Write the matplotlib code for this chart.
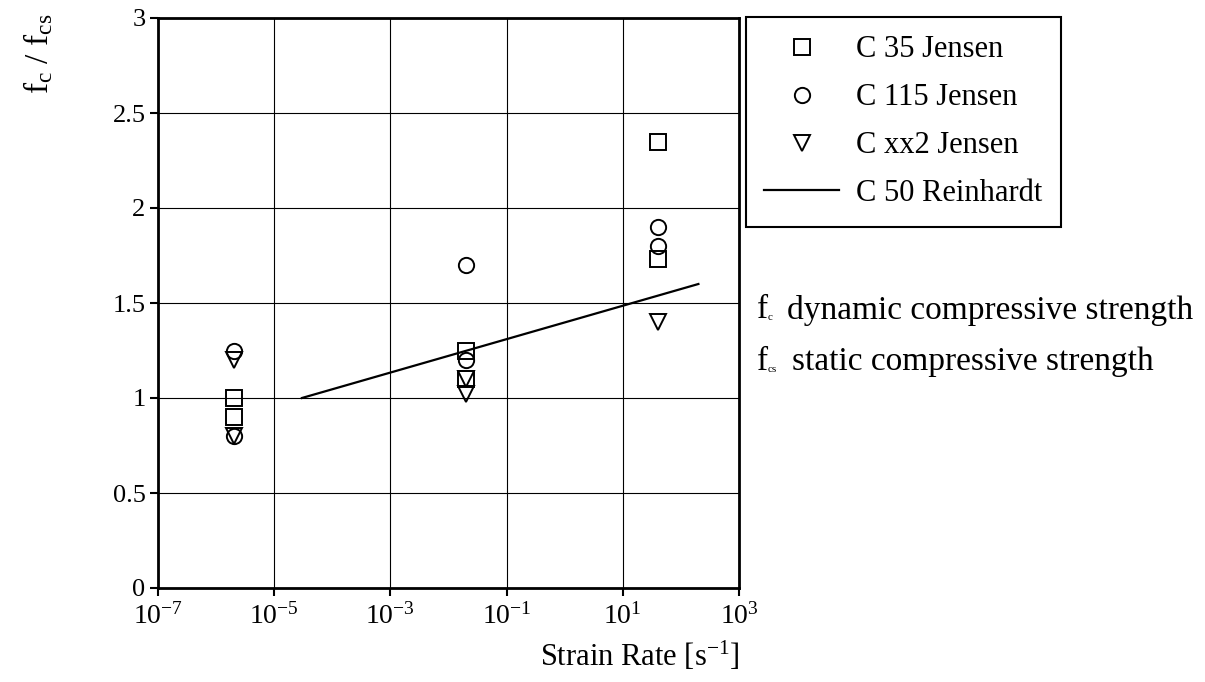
import matplotlib
matplotlib.use("Agg")
import matplotlib.pyplot as plt
from matplotlib.ticker import FixedLocator

plt.rcParams['font.family'] = ['Liberation Serif', 'DejaVu Serif']
plt.rcParams['mathtext.fontset'] = 'custom'
plt.rcParams['mathtext.rm'] = 'Liberation Serif'
plt.rcParams['mathtext.it'] = 'Liberation Serif'

# Data
c35_x = [2e-6, 2e-6, 0.02, 0.02, 40, 40]
c35_y = [1.0, 0.9, 1.25, 1.1, 2.35, 1.73]
c115_x = [2e-6, 2e-6, 0.02, 0.02, 40, 40]
c115_y = [1.25, 0.8, 1.7, 1.2, 1.9, 1.8]
cxx2_x = [2e-6, 2e-6, 0.02, 0.02, 40]
cxx2_y = [1.2, 0.8, 1.1, 1.02, 1.4]
reinhardt_x = [3e-5, 200]
reinhardt_y = [1.0, 1.6]

x_ticks = [1e-7, 1e-5, 1e-3, 1e-1, 1e1, 1e3]
x_tick_labels = [r'$10^{-7}$', r'$10^{-5}$', r'$10^{-3}$', r'$10^{-1}$', r'$10^{1}$', r'$10^{3}$']
y_ticks = [0, 0.5, 1, 1.5, 2, 2.5, 3]
y_tick_labels = ['0', '0.5', '1', '1.5', '2', '2.5', '3']

fig = plt.figure(figsize=(12.05, 6.82), dpi=100)
ax = fig.add_axes([158/1205, 1-588/682, (739-158)/1205, (588-18)/682])

ms = 11
mew = 1.4
ax.plot(c35_x, c35_y, linestyle='none', marker='s', ms=ms, mfc='none', mec='black', mew=mew, label='C 35 Jensen', zorder=3)
ax.plot(c115_x, c115_y, linestyle='none', marker='o', ms=ms, mfc='none', mec='black', mew=mew, label='C 115 Jensen', zorder=3)
ax.plot(cxx2_x, cxx2_y, linestyle='none', marker='v', ms=ms+1, mfc='none', mec='black', mew=mew, label='C xx2 Jensen', zorder=3)
ax.plot(reinhardt_x, reinhardt_y, color='black', lw=1.6, label='C 50 Reinhardt', zorder=3)

ax.set_xscale('log')
ax.set_xlim(1e-7, 1e3)
ax.set_ylim(0, 3)
ax.xaxis.set_major_locator(FixedLocator(x_ticks))
ax.xaxis.set_minor_locator(FixedLocator([]))
ax.set_xticks(x_ticks)
ax.set_xticklabels(x_tick_labels)
ax.set_yticks(y_ticks)
ax.set_yticklabels(y_tick_labels)
ax.tick_params(axis='y', direction='out', length=6, width=1.5, labelsize=19, pad=3)
ax.tick_params(axis='x', direction='out', length=6, width=1.5, labelsize=20, pad=5)
ax.grid(True, color='black', lw=0.8)
for s in ax.spines.values():
    s.set_linewidth(2)
    s.set_color('black')

fig.text(740/1205, 1-656/682, r'Strain Rate [s$^{-1}$]', fontsize=22, ha='right', va='center')
fig.text(38/1205, 1-54/682, r'f$_{\mathrm{c}}$ / f$_{\mathrm{cs}}$', fontsize=24, rotation=90, ha='center', va='center')

leg = fig.legend(loc='upper left', bbox_to_anchor=(746/1205, 1-17/682), borderaxespad=0,
                 fontsize=22, frameon=True, fancybox=False, framealpha=1,
                 handlelength=2.45, labelspacing=0.62, handletextpad=0.55, borderpad=0.6)
leg.get_frame().set_edgecolor('black')
leg.get_frame().set_linewidth(1.5)

fs = 24
fig.text(757/1205, 1-310/682, 'f', fontsize=fs, ha='left', va='center')
fig.text(768/1205, 1-318/682, 'c', fontsize=8, ha='left', va='center')
fig.text(787/1205, 1-310/682, 'dynamic compressive strength', fontsize=fs, ha='left', va='center')
fig.text(757/1205, 1-362/682, 'f', fontsize=fs, ha='left', va='center')
fig.text(768/1205, 1-370/682, 'cs', fontsize=8, ha='left', va='center')
fig.text(792/1205, 1-362/682, 'static compressive strength', fontsize=fs, ha='left', va='center')

fig.savefig('out.png', dpi=100)
